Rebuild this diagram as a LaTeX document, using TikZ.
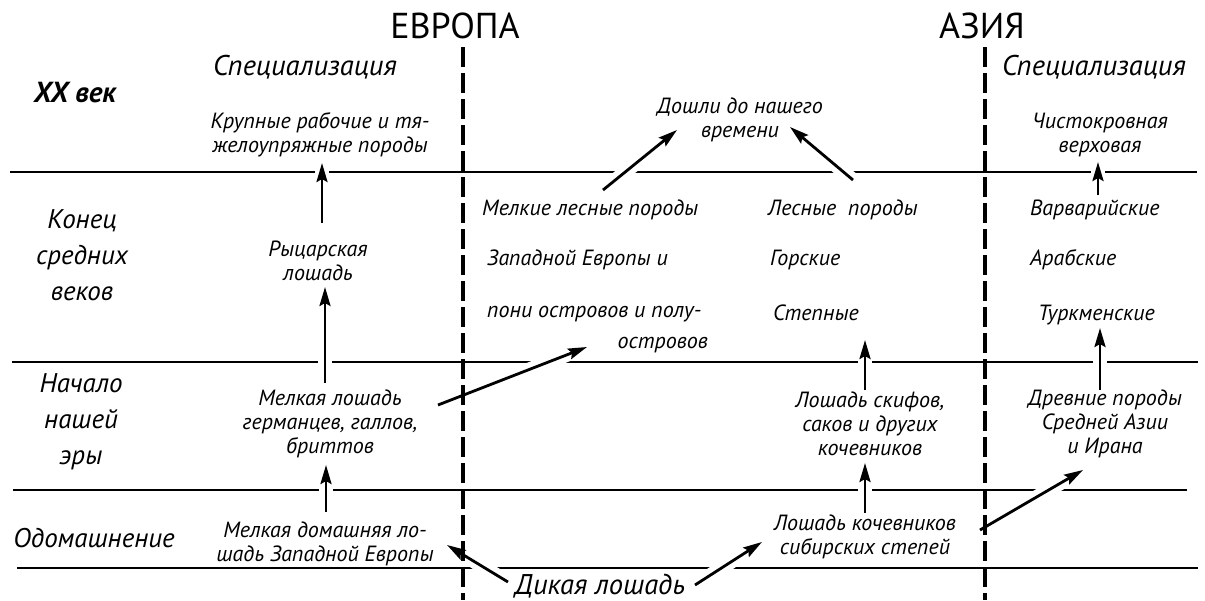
\documentclass[tikz,border=0pt]{standalone}
\usepackage{fontspec}
\setmainfont{PT Sans}
\usetikzlibrary{arrows.meta,calc}
\pgfdeclarelayer{bg}
\pgfsetlayers{bg,main}
\newcommand\fbody{\fontsize{22}{24}\selectfont\itshape}
\newcommand\fbig{\fontsize{27}{36}\selectfont\itshape}
\newcommand\fspec{\fontsize{28.5}{36}\selectfont\itshape}
\newcommand\fhead{\fontsize{36}{40}\selectfont}
\begin{document}
\begin{tikzpicture}[x=1pt,y=-1pt,
  txt/.style={inner sep=0pt,align=center,font=\fbody},
  lab/.style={inner sep=0pt,align=center,font=\fbig},
  head/.style={inner sep=0pt,font=\fhead},
  hline/.style={line width=1.8pt},
  divider/.style={line width=3.6pt,dash pattern=on 20pt off 6pt},
  arr/.style={line width=2.8pt,-{Stealth[length=19pt,width=11pt,inset=3pt]},
    preaction={draw=white,line width=14pt,-}}
]
\useasboundingbox (0,0) rectangle (1205,600);

% headers
\node[head,anchor=base] (eur) at (455,38) {ЕВРОПА};
\node[head,anchor=base] (asia) at (982,38) {АЗИЯ};

% row labels
\node[lab,anchor=base,font=\fontsize{29}{36}\selectfont\itshape\bfseries] (xx) at (75,102) {XX век};
\node[lab] (kon) at (82,255) {Конец\\средних\\веков};
\node[lab] (nach) at (81,422) {Начало\\нашей\\эры};
\node[lab,anchor=base] (od) at (94,547) {Одомашнение};

% Europe column
\node[lab,anchor=base,font=\fspec] (spec1) at (305,75) {Специализация};
\node[txt] (krup) at (320,134.5) {Крупные рабочие и тя-\\желоупряжные породы};
\node[txt] (rytz) at (318,261) {Рыцарская\\лошадь};
\node[txt] (mlos) at (330,424) {Мелкая лошадь\\германцев, галлов,\\бриттов};
\node[txt] (mdom) at (325,543.5) {Мелкая домашняя ло-\\шадь Западной Европы};
\node[lab,anchor=base,font=\fspec] (dik) at (600,594) {Дикая лошадь};

% middle Europe
\node[txt,anchor=base west] (mles1) at (482,215) {Мелкие лесные породы};
\node[txt,anchor=base west] (mles2) at (487,265) {Западной Европы и};
\node[txt,anchor=base west] (mles3) at (487,317) {пони островов и полу-};
\node[txt,anchor=base east] (mles4) at (708,348) {островов};
\node[txt] (dosh) at (740,120) {Дошли до нашего\\времени};

% middle Asia
\node[txt,anchor=base west] (les) at (768,215) {Лесные\ \ породы};
\node[txt,anchor=base west] (gors) at (770,265) {Горские};
\node[txt,anchor=base west] (stepn) at (773,320) {Степные};
\node[txt] (skif) at (870,424) {Лошадь скифов,\\саков и других\\кочевников};
\node[txt] (koch) at (865,537) {Лошадь кочевников\\сибирских степей};

% Asia column
\node[lab,anchor=base,font=\fspec] (spec2) at (1094,75) {Специализация};
\node[txt] (chist) at (1100,134.5) {Чистокровная\\верховая};
\node[txt,anchor=base west] (varv) at (1030,215) {Варварийские};
\node[txt,anchor=base west] (arab) at (1030,265) {Арабские};
\node[txt,anchor=base west] (turk) at (1038,320) {Туркменские};
\node[txt] (drev) at (1105,424) {Древние породы\\Средней Азии\\и Ирана};

\begin{pgfonlayer}{bg}
\draw[hline] (10,172) -- (1197,172);
\draw[hline] (12,362) -- (1198,362);
\draw[hline] (13,490) -- (1187,490);
\draw[hline] (17,568) -- (1198,568);

\draw[arr] ($(rytz.center)+(4,-38)$) -- ($(krup.center)+(2,28.5)$);
\draw[arr] ($(mlos.center)+(-5,-41)$) -- ($(rytz.center)+(7,26)$);
\draw[arr] ($(mdom.center)+(1,-31.5)$) -- ($(mlos.center)+(-4,41)$);
\draw[arr] ($(mlos.center)+(108,-19)$) -- ($(mles4.base east)+(-121,-1)$);
\draw[arr] ($(mles1.base west)+(121,-25)$) -- ($(dosh.center)+(-63,10)$);
\draw[arr] ($(les.base west)+(85,-35)$) -- ($(dosh.center)+(50,7)$);
\draw[arr] ($(skif.center)+(-5,-34)$) -- ($(stepn.base west)+(92,20)$);
\draw[arr] ($(koch.center)+(0,-24)$) -- ($(skif.center)+(-5,39)$);
\draw[arr] ($(koch.center)+(115,-7)$) -- ($(drev.center)+(-22,46)$);
\draw[arr] ($(varv.base west)+(68,-20)$) -- ($(chist.center)+(-2,27.5)$);
\draw[arr] ($(drev.center)+(-5,-34)$) -- ($(turk.base west)+(62,8)$);
\draw[arr] ($(dik.base)+(-92,-12)$) -- ($(mdom.center)+(122,1.5)$);
\draw[arr] ($(dik.base)+(95,-9)$) -- ($(koch.center)+(-103,5)$);

\draw[divider] (463,47) -- (463,600);
\draw[divider] (985,47) -- (985,600);
\end{pgfonlayer}
\end{tikzpicture}
\end{document}
